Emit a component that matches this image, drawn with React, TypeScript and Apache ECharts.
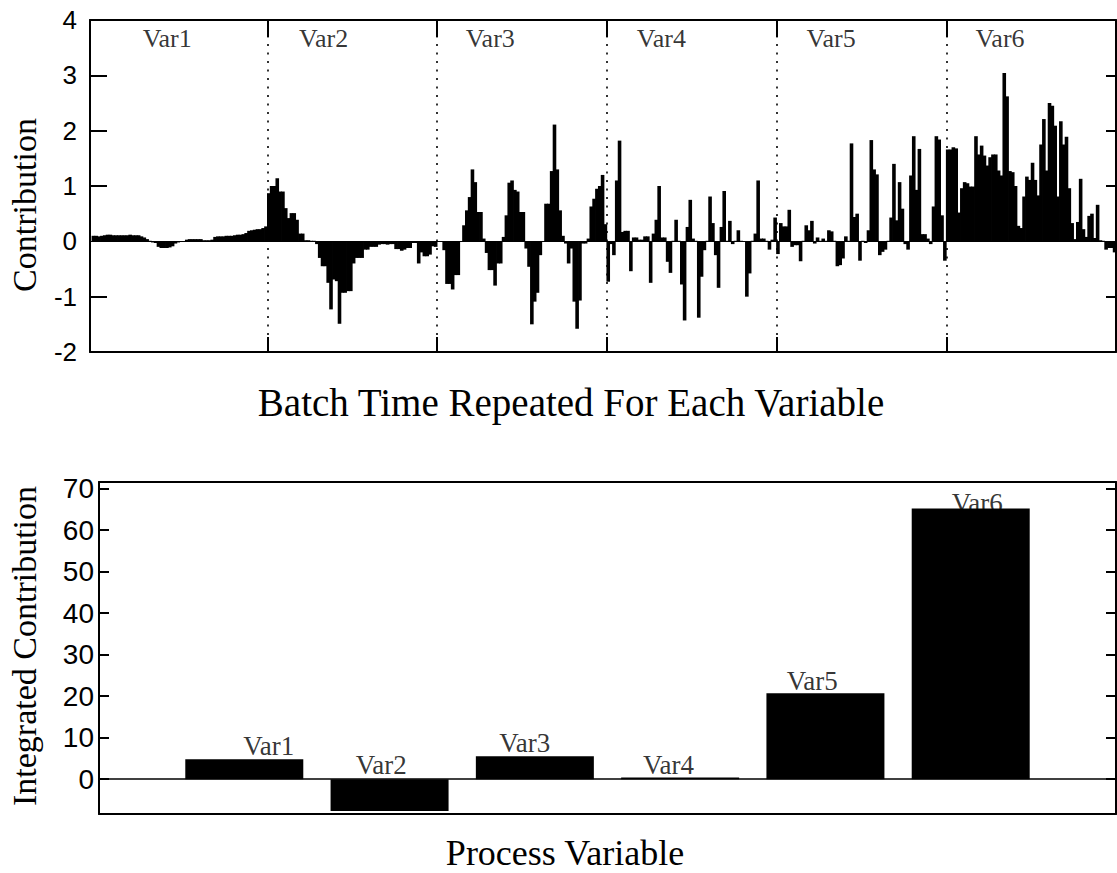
import React, { useEffect, useRef } from "react";
import * as echarts from "echarts";

// ---------- data ----------
const variables = ["Var1", "Var2", "Var3", "Var4", "Var5", "Var6"];

const var1Contribution = [
  0.1, 0.1, 0.09, 0.1, 0.11, 0.12, 0.12, 0.11, 0.11, 0.11,
  0.11, 0.11, 0.11, 0.12, 0.11, 0.11, 0.11, 0.09, 0.07, 0.04,
  0.01, -0.02, -0.03, -0.1, -0.12, -0.12, -0.12, -0.11, -0.09, -0.04,
  -0.02, -0.01, -0.01, 0.03, 0.04, 0.04, 0.04, 0.04, 0.04, 0.02,
  0.02, 0.02, 0.03, 0.08, 0.09, 0.09, 0.09, 0.1, 0.1, 0.1,
  0.11, 0.12, 0.12, 0.13, 0.15, 0.19, 0.2, 0.21, 0.22, 0.22,
  0.24, 0.27,
];
const var2Contribution = [
  0.87, 1.0, 1.0, 1.14, 0.9, 0.9, 0.6, 0.42, 0.51, 0.51,
  0.39, 0.14, 0.14, 0.02, 0.02, 0.01, 0.01, -0.05, -0.3, -0.45,
  -0.45, -0.75, -1.23, -0.69, -0.72, -1.49, -0.93, -0.93, -0.9, -0.9,
  -0.4, -0.3, -0.3, -0.3, -0.15, -0.15, -0.1, -0.1, -0.1, -0.06,
  -0.05, -0.05, -0.06, -0.05, -0.05, -0.14, -0.14, -0.17, -0.15, -0.12,
  -0.12, -0.03, -0.03, -0.4, -0.2, -0.27, -0.27, -0.24, -0.09, -0.1,
];
const var3Contribution = [
  -0.01, -0.01, -0.16, -0.77, -0.77, -0.87, -0.61, -0.61, -0.01, 0.29,
  0.56, 0.8, 1.3, 1.07, 0.53, 0.53, 0.05, -0.21, -0.52, -0.52,
  -0.8, -0.4, -0.4, 0.08, 0.47, 1.06, 1.1, 0.93, 0.9, 0.53,
  0.53, -0.13, -0.46, -1.5, -1.09, -0.93, -0.25, -0.01, 0.68, 0.68,
  1.27, 2.11, 1.3, 0.56, 0.1, -0.04, -0.4, -0.13, -1.09, -1.58,
  -1.07, -0.04, -0.04, 0.05, 0.63, 0.77, 0.95, 1.0, 1.2, 0.31,
];
const var4Contribution = [
  -0.73, -0.05, -0.25, 1.1, 1.82, 0.17, 0.19, 0.19, -0.54, 0.07,
  0.07, 0.03, 0.03, 0.09, 0.09, -0.75, 0.14, 0.39, 1.0, 0.07,
  0.07, -0.37, -0.57, 0.01, 0.39, 0.01, -0.78, -1.43, 0.26, 0.75,
  0.05, 0.01, -1.38, -0.64, -0.16, 0.01, 0.81, 0.33, -0.25, -0.84,
  0.26, 0.91, 0.01, 0.37, -0.05, 0.01, 0.2, 0.01, -0.01, -1.0,
  -0.58, 0.01, 0.14, 1.1, 0.05, 0.05, 0.01, -0.15, 0.03, 0.43,
];
const var5Contribution = [
  -0.23, 0.33, 0.27, 0.27, 0.57, -0.1, -0.07, -0.07, -0.36, 0.01,
  0.29, 0.2, 0.37, -0.04, 0.07, 0.01, 0.05, 0.01, 0.2, 0.18,
  0.01, -0.45, -0.43, -0.31, 0.09, 0.01, 1.77, 0.44, 0.5, -0.35,
  0.01, -0.03, 0.2, 1.83, 1.3, 1.21, -0.25, -0.19, -0.15, 0.01,
  0.43, 1.4, 0.38, 1.07, 0.59, -0.05, -0.15, 1.19, 1.9, 0.93,
  1.67, 0.13, 0.13, 0.05, -0.05, 0.63, 1.9, 1.84, 0.47, -0.35,
];
const var6Contribution = [
  1.66, 1.66, 1.7, 1.68, 0.52, 0.96, 1.07, 1.05, 0.99, 0.99,
  1.9, 1.57, 1.73, 1.55, 1.37, 1.52, 1.57, 1.57, 1.28, 1.19,
  3.04, 2.62, 1.27, 1.25, 1.0, 0.28, 0.24, 0.81, 1.17, 1.11,
  1.42, 1.11, 0.83, 1.75, 2.21, 1.28, 2.5, 2.45, 2.09, 0.81,
  2.17, 1.75, 1.89, 0.96, 0.33, 0.04, 0.35, 1.13, 0.22, 0.08,
  0.46, 0.5, 0.06, 0.66, 0.02, 0.01, -0.15, -0.12, -0.12, -0.2,
];
const contributionSeries = [
  var1Contribution, var2Contribution, var3Contribution,
  var4Contribution, var5Contribution, var6Contribution,
];
const samplesPerVariable = 60;
const var1FirstSample = -1;
const variableBoundaries = [60.5, 120.5, 180.5, 240.5, 300.5];

const integratedContribution = [4.8, -7.7, 5.5, 0.4, 20.7, 65.2];
const variablePositions = [1, 2, 3, 4, 5, 6];

const topXRange = [-2.2, 360.5];
const topYRange = [-2, 4];
const topYTicks = [-1, 1, 2, 3];
const bottomXRange = [0, 7];
const bottomYRange = [-8.4, 71.6];
const bottomYTicks = [0, 10, 20, 30, 40, 50, 60, 70];

const topLabelX = [25.1, 80.4, 139.3, 199.8, 259.8, 319.5];
const topLabelY = 3.67;
const bottomLabelX = [1.168, 1.942, 2.93, 3.92, 4.91, 6.045];
const bottomLabelY = [7.95, 3.37, 8.67, 3.37, 23.6, 66.5];

// ---------- chart ----------
const SANS = "Liberation Sans, Arial, Helvetica, sans-serif";
const SERIF = "Liberation Serif, Times New Roman, serif";

const topGrid = { left: 90, right: 1, top: 20, height: 332 };
const bottomGrid = { left: 99, right: 1, top: 482, height: 332 };
const CHART_W = 1117;

export default function App() {
  const ref = useRef<HTMLDivElement>(null);

  useEffect(() => {
    if (!ref.current) return;
    const chart = echarts.init(ref.current, undefined, { renderer: "svg" });

    const topData: number[][] = [];
    contributionSeries.forEach((arr, i) => {
      const start = i === 0 ? var1FirstSample : i * samplesPerVariable + 1;
      arr.forEach((v, j) => topData.push([start + j, v]));
    });

    // pixel length -> data units
    const topW = CHART_W - topGrid.left - topGrid.right;
    const botW = CHART_W - bottomGrid.left - bottomGrid.right;
    const topXU = (px: number) => (px * (topXRange[1] - topXRange[0])) / topW;
    const topYU = (px: number) => (px * (topYRange[1] - topYRange[0])) / topGrid.height;
    const botXU = (px: number) => (px * (bottomXRange[1] - bottomXRange[0])) / botW;

    const solid = { color: "#000", type: "solid", width: 2 };
    const seg = (a: number[], b: number[]) => [{ coord: a, lineStyle: solid }, { coord: b }];

    const topTickLines: any[] = [];
    topYTicks.forEach((v) => {
      topTickLines.push(seg([topXRange[0], v], [topXRange[0] + topXU(17), v]));
      topTickLines.push(seg([topXRange[1] - topXU(10), v], [topXRange[1], v]));
    });
    variableBoundaries.forEach((x) => {
      topTickLines.push(seg([x, topYRange[0]], [x, topYRange[0] + topYU(15)]));
      topTickLines.push(seg([x, topYRange[1] - topYU(17)], [x, topYRange[1]]));
    });
    const botTickLines: any[] = [];
    bottomYTicks.forEach((v) => {
      botTickLines.push(seg([bottomXRange[0], v], [bottomXRange[0] + botXU(10), v]));
      botTickLines.push(seg([bottomXRange[1] - botXU(10), v], [bottomXRange[1], v]));
    });

    const frameLine = { show: true, onZero: false, lineStyle: { color: "#000", width: 2 } };
    const noTick = { show: false };

    const option: any = {
      animation: false,
      backgroundColor: "#fff",
      grid: [
        { ...topGrid, show: false },
        { ...bottomGrid, show: false },
      ],
      xAxis: [
        { type: "value", gridIndex: 0, min: topXRange[0], max: topXRange[1], position: "bottom", axisLine: frameLine, splitLine: { show: false }, axisLabel: { show: false }, axisTick: noTick },
        { type: "value", gridIndex: 0, min: topXRange[0], max: topXRange[1], position: "top", axisLine: frameLine, splitLine: { show: false }, axisLabel: { show: false }, axisTick: noTick },
        { type: "value", gridIndex: 1, min: bottomXRange[0], max: bottomXRange[1], position: "bottom", axisLine: frameLine, splitLine: { show: false }, axisLabel: { show: false }, axisTick: noTick },
        { type: "value", gridIndex: 1, min: bottomXRange[0], max: bottomXRange[1], position: "top", axisLine: frameLine, splitLine: { show: false }, axisLabel: { show: false }, axisTick: noTick },
      ],
      yAxis: [
        {
          type: "value", gridIndex: 0, min: topYRange[0], max: topYRange[1], interval: 1, position: "left",
          axisLine: frameLine, splitLine: { show: false }, axisTick: noTick,
          axisLabel: { show: true, color: "#000", fontSize: 26, fontFamily: SANS, margin: 13 },
        },
        {
          type: "value", gridIndex: 0, min: topYRange[0], max: topYRange[1], interval: 1, position: "right",
          axisLine: frameLine, splitLine: { show: false }, axisTick: noTick, axisLabel: { show: false },
        },
        {
          type: "value", gridIndex: 1, min: bottomYRange[0], max: bottomYRange[1], position: "left",
          axisLine: frameLine, splitLine: { show: false }, axisTick: noTick,
          axisLabel: { show: true, customValues: bottomYTicks, color: "#000", fontSize: 28, fontFamily: SANS, margin: 5 },
        },
        {
          type: "value", gridIndex: 1, min: bottomYRange[0], max: bottomYRange[1], position: "right",
          axisLine: frameLine, splitLine: { show: false }, axisTick: noTick, axisLabel: { show: false },
        },
      ],
      series: [
        {
          type: "bar", xAxisIndex: 0, yAxisIndex: 0,
          data: topData, barWidth: 3.6,
          itemStyle: { color: "#000" },
          silent: true,
          markLine: {
            silent: true, symbol: ["none", "none"], label: { show: false },
            lineStyle: { color: "#000" },
            data: [
              ...variableBoundaries.map((x) => ({ xAxis: x, lineStyle: { color: "#000", type: [2, 6.5], width: 1.6 } })),
              { yAxis: 0, lineStyle: { color: "#000", type: "solid", width: 1 } },
              ...topTickLines,
            ],
          },
        },
        {
          type: "scatter", xAxisIndex: 0, yAxisIndex: 0,
          symbolSize: 1, itemStyle: { color: "transparent" }, silent: true,
          data: variables.map((n, i) => ({ name: n, value: [topLabelX[i], topLabelY] })),
          label: { show: true, position: "inside", formatter: "{b}", color: "#000", fontSize: 26, fontFamily: SERIF },
        },
        {
          type: "bar", xAxisIndex: 2, yAxisIndex: 2,
          data: variablePositions.map((x, i) => [x, integratedContribution[i]]),
          barWidth: 118, itemStyle: { color: "#000" }, silent: true,
          markLine: {
            silent: true, symbol: ["none", "none"], label: { show: false },
            data: [
              { yAxis: 0, lineStyle: { color: "#000", type: "solid", width: 1.5 } },
              ...botTickLines,
            ],
          },
        },
        {
          type: "scatter", xAxisIndex: 2, yAxisIndex: 2,
          symbolSize: 1, itemStyle: { color: "transparent" }, silent: true,
          data: variables.map((n, i) => ({ name: n, value: [bottomLabelX[i], bottomLabelY[i]] })),
          label: { show: true, position: "inside", formatter: "{b}", color: "#000", fontSize: 27, fontFamily: SERIF },
        },
      ],
      graphic: [
        { type: "text", x: 24, y: 205, rotation: Math.PI / 2, style: { text: "Contribution", font: `34px ${SERIF}`, fill: "#000", align: "center", verticalAlign: "middle" } },
        { type: "text", x: 571, y: 402, style: { text: "Batch Time Repeated For Each Variable", font: `39px ${SERIF}`, fill: "#000", align: "center", verticalAlign: "middle" } },
        { type: "text", x: 24, y: 646, rotation: Math.PI / 2, style: { text: "Integrated Contribution", font: `34px ${SERIF}`, fill: "#000", align: "center", verticalAlign: "middle" } },
        { type: "text", x: 565, y: 853, style: { text: "Process Variable", font: `36px ${SERIF}`, fill: "#000", align: "center", verticalAlign: "middle" } },
      ],
    };

    chart.setOption(option);
    return () => chart.dispose();
  }, []);

  return (
    <div
      ref={ref}
      style={{ position: "absolute", left: 0, top: 0, width: 1117, height: 873 }}
    />
  );
}
